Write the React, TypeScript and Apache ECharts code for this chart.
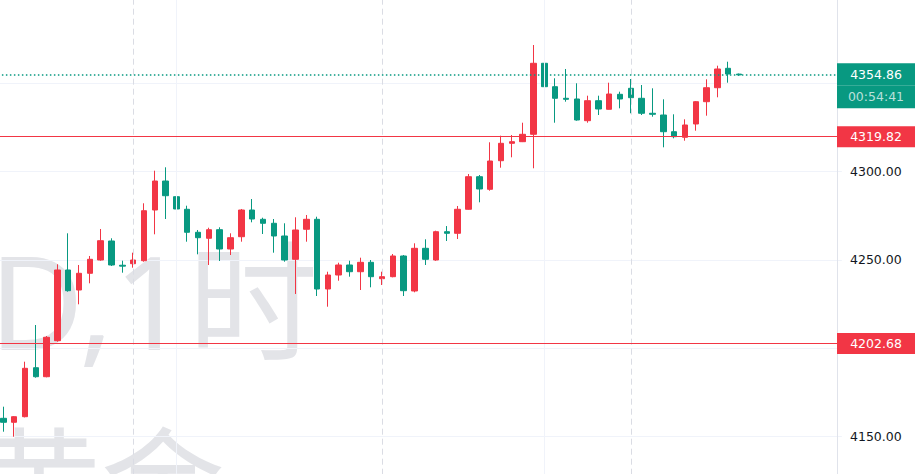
import React, { useEffect, useRef } from "react";
import * as echarts from "echarts";

// hourly candles (open, close, low, high)
const opens = [
  4160.28, 4158.02, 4161.19, 4188.95, 4183.85, 4204.25, 4244.31, 4232.97, 4242.44, 4249.97,
  4260.74, 4247.0, 4247.88, 4249.58, 4278.3, 4294.73, 4285.84, 4278.7, 4265.67, 4262.27,
  4267.14, 4256.2, 4263.17, 4278.3, 4273.03, 4270.77, 4263.57, 4250.37, 4267.37, 4273.03,
  4233.54, 4241.47, 4247.14, 4243.34, 4248.67, 4239.38, 4240.51, 4252.24, 4232.41, 4256.6,
  4249.97, 4266.01, 4265.1, 4278.7, 4297.17, 4290.03, 4306.23, 4316.09, 4317.0, 4321.19,
  4361.42, 4348.16, 4341.59, 4341.19, 4328.9, 4340.23, 4335.35, 4343.85, 4347.25, 4341.59,
  4333.09, 4332.12, 4322.66, 4319.49, 4327.03, 4339.66, 4347.59, 4358.58, 4355.3,
];
const closes = [
  4158.02, 4161.19, 4188.61, 4183.85, 4206.18, 4244.31, 4232.58, 4242.44, 4250.37, 4260.91,
  4247.14, 4246.5, 4249.97, 4277.9, 4294.73, 4286.4, 4278.87, 4265.67, 4262.61, 4267.14,
  4256.2, 4262.61, 4278.3, 4273.2, 4270.77, 4263.57, 4249.97, 4266.97, 4273.03, 4233.54,
  4241.47, 4247.14, 4243.34, 4248.67, 4240.51, 4240.51, 4252.24, 4232.58, 4256.6, 4250.37,
  4266.01, 4265.1, 4278.7, 4297.17, 4290.2, 4306.06, 4316.09, 4317.0, 4321.19, 4361.42,
  4348.16, 4341.59, 4341.02, 4329.29, 4340.23, 4335.52, 4344.02, 4341.19, 4341.93, 4333.09,
  4332.52, 4322.66, 4319.83, 4326.46, 4339.66, 4347.59, 4358.19, 4355.35, 4354.86,
];
const lows = [
  4152.69, 4149.86, 4160.8, 4183.3, 4183.5, 4203.68, 4232.01, 4224.87, 4236.77, 4249.58,
  4246.57, 4242.78, 4245.61, 4249.0, 4264.53, 4273.2, 4275.07, 4260.34, 4253.2, 4247.14,
  4249.4, 4252.8, 4260.34, 4271.33, 4264.7, 4254.11, 4249.0, 4230.71, 4260.34, 4229.57,
  4223.51, 4238.24, 4240.51, 4232.97, 4234.5, 4235.81, 4240.17, 4229.57, 4231.67, 4247.14,
  4249.5, 4260.74, 4261.87, 4278.5, 4282.66, 4289.23, 4302.27, 4308.16, 4316.8, 4301.93,
  4339.32, 4327.76, 4339.66, 4328.9, 4327.76, 4332.12, 4335.2, 4335.92, 4333.09, 4332.12,
  4331.16, 4313.82, 4318.92, 4317.56, 4323.23, 4331.73, 4342.15, 4350.43, 4354.4,
];
const highs = [
  4166.86, 4161.5, 4192.35, 4213.14, 4206.91, 4247.54, 4265.1, 4247.14, 4252.24, 4267.54,
  4262.27, 4249.58, 4254.11, 4282.1, 4300.57, 4302.49, 4304.19, 4280.74, 4266.97, 4268.27,
  4268.5, 4265.1, 4278.87, 4284.53, 4273.94, 4273.2, 4270.77, 4274.17, 4275.47, 4274.5,
  4243.34, 4248.44, 4249.58, 4251.28, 4249.97, 4243.34, 4253.37, 4252.8, 4259.43, 4261.7,
  4266.57, 4269.2, 4280.57, 4298.7, 4298.13, 4316.66, 4320.4, 4320.79, 4327.76, 4371.78,
  4367.99, 4352.92, 4358.19, 4350.09, 4343.06, 4343.06, 4350.43, 4345.33, 4352.52, 4349.12,
  4347.25, 4341.02, 4332.52, 4329.69, 4340.0, 4352.35, 4360.06, 4362.32, 4355.6,
];
const emptySlots = 9; // blank space to the right of the last candle
const sessionBreaks = [12, 35, 58]; // dashed vertical lines
const timeMarks = [16, 50]; // solid vertical grid lines
const levels = [4319.82, 4202.68];
const lastPrice = 4354.86;
const countdown = "00:54:41";
const yTicks = { min: 4100, max: 4400, step: 50 };
const watermark1 = "XAUUSD,1时";
const watermark2 = "黄金";

const RED = "#F23645";
const GREEN = "#089981";
const FONT = '"DejaVu Sans", Verdana, sans-serif';
// the chart canvas is larger than the window and shifted up/left so the
// visible window shows only a part of the price pane
const SHIFT_X = 20;
const SHIFT_Y = 60;
const W = 916 + SHIFT_X;
const H = 474 + SHIFT_Y * 2;

export default function App() {
  const ref = useRef<HTMLDivElement>(null);
  useEffect(() => {
    if (!ref.current) return;
    const chart = echarts.init(ref.current, null, { renderer: "svg" });
    const categories = Array.from({ length: opens.length + emptySlots }, (_, i) => String(i));
    const candles = opens.map((o, i) => [o, closes[i], lows[i], highs[i]]);
    const marked = [...levels, lastPrice];
    const labelBase = { fontSize: 12.5, fontFamily: FONT, align: "center", width: 78 };
    const option: any = {
      animation: false,
      backgroundColor: "#ffffff",
      grid: {
        left: SHIFT_X - 2.11,
        right: 74.15,
        top: SHIFT_Y - 4.8,
        bottom: H - (SHIFT_Y + 524.7),
        containLabel: false,
      },
      xAxis: {
        type: "category",
        data: categories,
        boundaryGap: true,
        axisLine: { show: false },
        axisTick: { show: false },
        axisLabel: { show: false },
        splitLine: { show: false },
      },
      yAxis: {
        type: "value",
        position: "right",
        offset: -4.85,
        min: yTicks.min,
        max: yTicks.max,
        interval: yTicks.step,
        axisLine: { show: true, lineStyle: { color: "#e0e3eb", width: 1 } },
        axisTick: { show: false },
        axisLabel: {
          color: "#131722",
          fontSize: 12.5,
          fontFamily: FONT,
          margin: 13,
          showMaxLabel: false,
          showMinLabel: false,
          // price tags cover the scale labels they collide with
          formatter: (v: number) =>
            marked.some((m) => Math.abs(m - v) < 10) ? "" : v.toFixed(2),
        },
        splitLine: { show: true, lineStyle: { color: "#f0f3fa", width: 1 } },
      },
      graphic: [
        {
          type: "text",
          z: -1,
          x: SHIFT_X + 318,
          y: SHIFT_Y + 299,
          silent: true,
          style: {
            text: watermark1,
            fontSize: 130,
            fontFamily: '"Noto Sans", "Noto Sans CJK SC", sans-serif',
            fill: "#e3e4e8",
            align: "right",
            verticalAlign: "middle",
            textAlign: "right",
            textVerticalAlign: "middle",
          },
        },
        {
          type: "text",
          z: -1,
          x: SHIFT_X - 23,
          y: SHIFT_Y + 483,
          silent: true,
          style: {
            text: watermark2,
            fontSize: 124,
            fontFamily: '"Noto Sans", "Noto Sans CJK SC", sans-serif',
            fill: "#e3e4e8",
            align: "left",
            verticalAlign: "middle",
            textAlign: "left",
            textVerticalAlign: "middle",
          },
        },
      ],
      series: [
        {
          type: "candlestick",
          data: candles,
          barWidth: 6,
          itemStyle: {
            color: RED,
            color0: GREEN,
            borderColor: RED,
            borderColor0: GREEN,
            borderWidth: 1,
          },
          markLine: {
            silent: true,
            symbol: ["none", "none"],
            animation: false,
            label: {
              show: true,
              position: "end",
              distance: -4.85,
              rich: {
                r: { ...labelBase, color: "#fff", backgroundColor: RED, height: 21, lineHeight: 21 },
                e: { fontSize: 12.5, height: 22, lineHeight: 22 },
                g: { ...labelBase, color: "#fff", backgroundColor: GREEN, height: 22, lineHeight: 22 },
                t: {
                  ...labelBase,
                  color: "rgba(255,255,255,0.72)",
                  backgroundColor: GREEN,
                  height: 23,
                  lineHeight: 23,
                },
              },
            },
            data: [
              ...sessionBreaks.map((i) => ({
                xAxis: String(i),
                lineStyle: { color: "#dadce4", width: 1, type: [6, 4] },
                label: { show: false },
              })),
              ...timeMarks.map((i) => ({
                xAxis: String(i),
                lineStyle: { color: "#f0f3fa", width: 1, type: "solid" },
                label: { show: false },
              })),
              ...levels.map((v) => ({
                yAxis: v,
                lineStyle: { color: RED, width: 1.2, type: "solid" },
                label: { formatter: `{r|${v.toFixed(2)}}` },
              })),
              {
                yAxis: lastPrice,
                lineStyle: { color: GREEN, width: 1.5, type: [1.5, 2.5] },
                label: { formatter: `{e| }\n{g|${lastPrice.toFixed(2)}}\n{t|${countdown}}` },
              },
            ],
          },
        },
      ],
    };
    chart.setOption(option);
    return () => chart.dispose();
  }, []);
  return (
    <div
      ref={ref}
      style={{
        position: "fixed",
        left: -SHIFT_X,
        top: -SHIFT_Y,
        width: W,
        height: H,
        background: "#fff",
      }}
    />
  );
}
